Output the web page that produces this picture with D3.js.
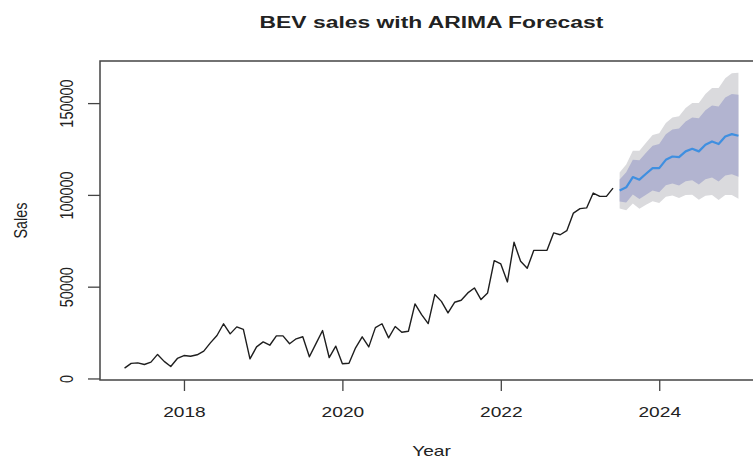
<html>
<head>
<title>BEV sales with ARIMA Forecast</title>
<script src="https://d3js.org/d3.v7.min.js"></script>
<style>
  body { margin: 0; background: #fff; }
  text { font-family: "Liberation Sans", Arial, sans-serif; fill: #222; }
</style>
</head>
<body>
<script>
// monthly BEV sales, Apr 2017 .. Jun 2023
var startYear = 2017, startMonth = 4
var sales = [
  5600, 8200, 8500, 7600, 8900, 13100, 9300, 6500, 10900,
  12500, 12100, 12900, 14900, 19400, 23400, 29800, 24300, 28100, 26700, 10700, 17200,
  19900, 18100, 23200, 23200, 18900, 21600, 22700, 11800, 19000, 26100, 11400, 17600,
  8000, 8300, 16700, 22700, 17200, 27700, 29800, 22100, 28300, 25200, 25700, 40600,
  34800, 29900, 45700, 42000, 35700, 41500, 42600, 46600, 49300, 43000, 46600, 64200,
  62400, 52600, 74200, 63800, 60000, 69800, 69800, 69800, 79300, 78300, 80500, 90100,
  92500, 92900, 101000, 99200, 99200, 103700
]

// ARIMA forecast, Jul 2023 .. Jan 2025
var fcStartYear = 2023, fcStartMonth = 7
var fcMean = [102400, 104100, 109700, 108300, 111500, 114600, 114600, 119100, 120900, 120600,
  123700, 125100, 123700, 127300, 129100, 127700, 131800, 133100, 132200]
var lo80 = [96400, 95900, 100200, 97700, 100100, 102400, 101500, 105200, 106200, 105100,
  107400, 108000, 105700, 108500, 109500, 107300, 110600, 111300, 109900]
var hi80 = [108400, 112300, 119200, 118900, 122900, 126800, 127700, 133000, 135600, 136100,
  140000, 142200, 141700, 146100, 148700, 148100, 153000, 154900, 154500]
var lo95 = [92600, 91600, 95300, 92500, 94600, 96600, 95600, 99000, 99700, 98300,
  100000, 100100, 97300, 99600, 100000, 97200, 100000, 99900, 97900]
var hi95 = [112200, 116600, 124100, 124100, 128400, 132600, 133600, 139200, 142100, 142900,
  147400, 150100, 150100, 155000, 158200, 158200, 163600, 166300, 166500]

var xTicks = [2018, 2020, 2022, 2024]
var yTicks = [0, 50000, 100000, 150000]

var width = 753, height = 462
var sx = 1.33   // the picture is stretched sideways

var x = d3.scaleLinear().domain([2016.94, 2025.31]).range([100, 763])
var y = d3.scaleLinear().domain([-836, 172936]).range([380, 61])

function tAct(i) { return startYear + (startMonth - 1 + i) / 12 }
function tFc(i) { return fcStartYear + (fcStartMonth - 1 + i) / 12 }

var svg = d3.select('body').append('svg')
  .attr('width', width)
  .attr('height', height)

// prediction bands
var band = function (lo, hi) {
  return d3.area()
    .x(function (d, i) { return x(tFc(i)) })
    .y0(function (d, i) { return y(lo[i]) })
    .y1(function (d, i) { return y(hi[i]) })
}
svg.append('path').datum(fcMean).attr('d', band(lo95, hi95)(fcMean)).attr('fill', '#dadadd')
svg.append('path').datum(fcMean).attr('d', band(lo80, hi80)(fcMean)).attr('fill', '#b2b4d0')

// observed series
var line = d3.line()
  .x(function (d, i) { return x(tAct(i)) })
  .y(function (d) { return y(d) })
svg.append('path').datum(sales)
  .attr('d', line)
  .attr('fill', 'none')
  .attr('stroke', '#1e1e1e')
  .attr('stroke-width', 1.4)
  .attr('stroke-linejoin', 'round')

// forecast mean
var fline = d3.line()
  .x(function (d, i) { return x(tFc(i)) })
  .y(function (d) { return y(d) })
svg.append('path').datum(fcMean)
  .attr('d', fline)
  .attr('fill', 'none')
  .attr('stroke', '#3f8fe0')
  .attr('stroke-width', 2.2)
  .attr('stroke-linejoin', 'round')

// box
svg.append('rect')
  .attr('x', 100).attr('y', 61)
  .attr('width', 663).attr('height', 319)
  .attr('fill', 'none')
  .attr('stroke', '#444')
  .attr('stroke-width', 1.5)

// axes
var xAxis = svg.append('g')
  .attr('transform', 'translate(0,380)')
  .call(d3.axisBottom(x).tickValues(xTicks).tickFormat(d3.format('d')).tickSize(11).tickSizeOuter(0))
xAxis.select('.domain').remove()
xAxis.selectAll('line').attr('stroke', '#444').attr('stroke-width', 1.3)
xAxis.selectAll('text')
  .attr('y', 0).attr('dy', null)
  .attr('transform', 'translate(0,37) scale(' + sx + ',1)')
  .attr('font-size', 14.4)
  .attr('fill', '#222')

var yAxis = svg.append('g')
  .attr('transform', 'translate(100,0)')
  .call(d3.axisLeft(y).tickValues(yTicks).tickFormat(d3.format('d')).tickSize(12).tickSizeOuter(0))
yAxis.select('.domain').remove()
yAxis.selectAll('line').attr('stroke', '#444').attr('stroke-width', 1.3)
yAxis.selectAll('text')
  .attr('x', 0).attr('dy', null)
  .attr('text-anchor', 'middle')
  .attr('transform', 'translate(-27,0) scale(' + sx + ',1) rotate(-90)')
  .attr('font-size', 14.4)
  .attr('fill', '#222')

// titles
svg.append('text')
  .attr('transform', 'translate(431.5,27.5) scale(' + sx + ',1)')
  .attr('text-anchor', 'middle')
  .attr('font-size', 17.2)
  .attr('font-weight', 'bold')
  .attr('fill', '#111')
  .text('BEV sales with ARIMA Forecast')

svg.append('text')
  .attr('transform', 'translate(431.5,456) scale(' + sx + ',1)')
  .attr('text-anchor', 'middle')
  .attr('font-size', 14.4)
  .text('Year')

svg.append('text')
  .attr('transform', 'translate(27,220.5) scale(' + sx + ',1) rotate(-90)')
  .attr('text-anchor', 'middle')
  .attr('font-size', 14.4)
  .text('Sales')
</script>
</body>
</html>
